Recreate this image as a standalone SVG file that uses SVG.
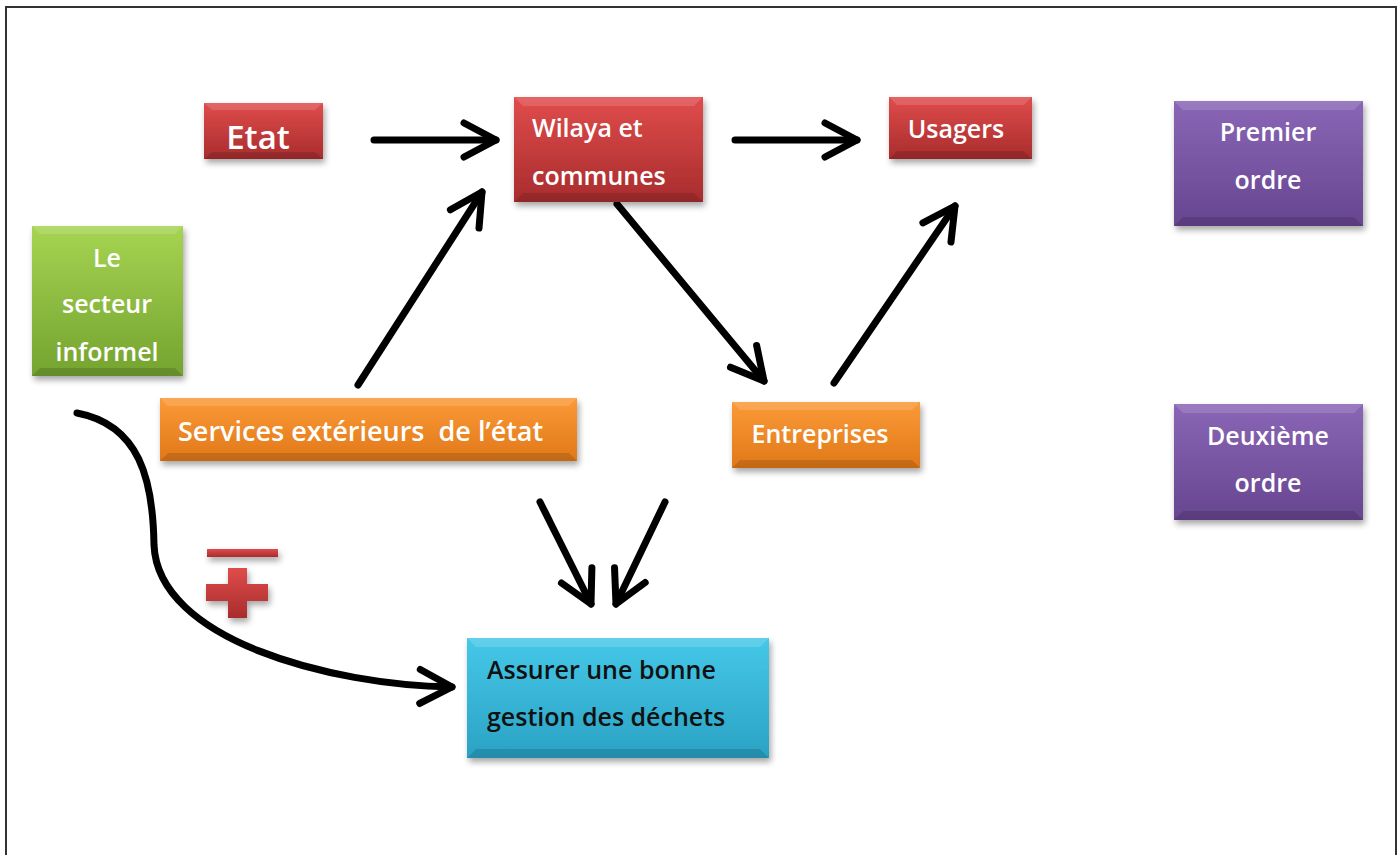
<svg xmlns="http://www.w3.org/2000/svg" width="1400" height="855" viewBox="0 0 1400 855">
  <defs>
    <style>
      .lbl { font-family: "Open Sans", "Noto Sans", "Liberation Sans", sans-serif; font-weight: 600; font-size: 25px; fill: #ffffff; }
      .big { font-size: 33px; }
      .wide { font-size: 27px; }
      .dark { fill: #111111; }
      .mid { text-anchor: middle; }
      .link { fill: none; stroke: #000000; stroke-width: 7; stroke-linecap: round; stroke-linejoin: round; }
      .hi { fill: #ffffff; opacity: 0.14; }
      .lo { fill: #000000; opacity: 0.13; }
    </style>
    <filter id="shadow" x="-10%" y="-10%" width="125%" height="140%">
      <feDropShadow dx="2" dy="4" stdDeviation="3" flood-color="#000000" flood-opacity="0.35"/>
    </filter>
    <linearGradient id="gRed" x1="0" y1="0" x2="0" y2="1">
      <stop offset="0" stop-color="#e04c4c"/>
      <stop offset="1" stop-color="#a82c2d"/>
    </linearGradient>
    <linearGradient id="gPurple" x1="0" y1="0" x2="0" y2="1">
      <stop offset="0" stop-color="#8a66b6"/>
      <stop offset="1" stop-color="#674590"/>
    </linearGradient>
    <linearGradient id="gGreen" x1="0" y1="0" x2="0" y2="1">
      <stop offset="0" stop-color="#a6d452"/>
      <stop offset="1" stop-color="#74a330"/>
    </linearGradient>
    <linearGradient id="gOrange" x1="0" y1="0" x2="0" y2="1">
      <stop offset="0" stop-color="#fb9a38"/>
      <stop offset="1" stop-color="#e07818"/>
    </linearGradient>
    <linearGradient id="gCyan" x1="0" y1="0" x2="0" y2="1">
      <stop offset="0" stop-color="#46c8e8"/>
      <stop offset="1" stop-color="#2aa2c4"/>
    </linearGradient>
    <marker id="chev" viewBox="-45 -30 55 60" markerWidth="55" markerHeight="60" refX="0" refY="0" orient="auto" markerUnits="userSpaceOnUse" overflow="visible">
      <path d="M-32,-17 L0,0 L-32,17" fill="none" stroke="#000000" stroke-width="7" stroke-linecap="round" stroke-linejoin="round"/>
    </marker>
  </defs>

  <rect x="0" y="0" width="1400" height="855" fill="#ffffff"/>
  <!-- page frame -->
  <path d="M6,860 L6,7 L1396,7 L1396,860" fill="none" stroke="#333333" stroke-width="2"/>

  <!-- connectors -->
  <g id="connectors">
    <path class="link" d="M374,140 L496,140" marker-end="url(#chev)"/>
    <path class="link" d="M735,140 L857,140" marker-end="url(#chev)"/>
    <path class="link" d="M358,385 L482,192" marker-end="url(#chev)"/>
    <path class="link" d="M617,204 L764,381" marker-end="url(#chev)"/>
    <path class="link" d="M834,383 L955,206" marker-end="url(#chev)"/>
    <path class="link" d="M540,502 L591,604" marker-end="url(#chev)"/>
    <path class="link" d="M665,502 L616,604" marker-end="url(#chev)"/>
    <path class="link" d="M77,413 C140,425 153,480 154,545 C158,640 330,685 452,687" marker-end="url(#chev)"/>
  </g>

  <!-- minus / plus sign -->
  <g id="sign" filter="url(#shadow)">
    <rect x="207" y="549" width="71" height="8" fill="url(#gRed)"/>
    <path d="M228,568 L247,568 L247,584 L268,584 L268,601 L247,601 L247,618 L228,618 L228,601 L206,601 L206,584 L228,584 Z" fill="url(#gRed)"/>
  </g>

  <g id="etat">
    <rect x="204" y="103" width="119" height="56" fill="url(#gRed)" filter="url(#shadow)"/>
    <polygon class="hi" points="204,103 323,103 315,110 212,110"/>
    <polygon class="lo" points="204,159 323,159 315,152 212,152"/>
    <text class="lbl big mid" x="258" y="149">Etat</text>
  </g>

  <g id="wilaya">
    <rect x="514" y="97" width="189" height="105" fill="url(#gRed)" filter="url(#shadow)"/>
    <polygon class="hi" points="514,97 703,97 694,106 523,106"/>
    <polygon class="lo" points="514,202 703,202 694,193 523,193"/>
    <text class="lbl" x="532" y="137">Wilaya et</text>
    <text class="lbl" x="532" y="185">communes</text>
  </g>

  <g id="usagers">
    <rect x="889" y="97" width="143" height="62" fill="url(#gRed)" filter="url(#shadow)"/>
    <polygon class="hi" points="889,97 1032,97 1024,105 897,105"/>
    <polygon class="lo" points="889,159 1032,159 1024,151 897,151"/>
    <text class="lbl mid" x="956" y="138">Usagers</text>
  </g>

  <g id="premier">
    <rect x="1174" y="101" width="189" height="125" fill="url(#gPurple)" filter="url(#shadow)"/>
    <polygon class="hi" points="1174,101 1363,101 1354,110 1183,110"/>
    <polygon class="lo" points="1174,226 1363,226 1354,217 1183,217"/>
    <text class="lbl mid" x="1268" y="141">Premier</text>
    <text class="lbl mid" x="1268" y="189">ordre</text>
  </g>

  <g id="deuxieme">
    <rect x="1174" y="404" width="189" height="116" fill="url(#gPurple)" filter="url(#shadow)"/>
    <polygon class="hi" points="1174,404 1363,404 1354,413 1183,413"/>
    <polygon class="lo" points="1174,520 1363,520 1354,511 1183,511"/>
    <text class="lbl mid" x="1268" y="445">Deuxième</text>
    <text class="lbl mid" x="1268" y="492">ordre</text>
  </g>

  <g id="informel">
    <rect x="32" y="226" width="151" height="150" fill="url(#gGreen)" filter="url(#shadow)"/>
    <polygon class="hi" points="32,226 183,226 175,234 40,234"/>
    <polygon class="lo" points="32,376 183,376 175,368 40,368"/>
    <text class="lbl mid" x="107" y="267">Le</text>
    <text class="lbl mid" x="107" y="313">secteur</text>
    <text class="lbl mid" x="107" y="361">informel</text>
  </g>

  <g id="services">
    <rect x="160" y="398" width="417" height="63" fill="url(#gOrange)" filter="url(#shadow)"/>
    <polygon class="hi" points="160,398 577,398 569,406 168,406"/>
    <polygon class="lo" points="160,461 577,461 569,453 168,453"/>
    <text class="lbl wide" x="178" y="441" xml:space="preserve">Services extérieurs  de l’état</text>
  </g>

  <g id="entreprises">
    <rect x="732" y="402" width="188" height="66" fill="url(#gOrange)" filter="url(#shadow)"/>
    <polygon class="hi" points="732,402 920,402 912,410 740,410"/>
    <polygon class="lo" points="732,468 920,468 912,460 740,460"/>
    <text class="lbl mid" x="820" y="443">Entreprises</text>
  </g>

  <g id="assurer">
    <rect x="467" y="638" width="302" height="120" fill="url(#gCyan)" filter="url(#shadow)"/>
    <polygon class="hi" points="467,638 769,638 760,647 476,647"/>
    <polygon class="lo" points="467,758 769,758 760,749 476,749"/>
    <text class="lbl dark" x="487" y="679">Assurer une bonne</text>
    <text class="lbl dark" x="487" y="726">gestion des déchets</text>
  </g>
</svg>
